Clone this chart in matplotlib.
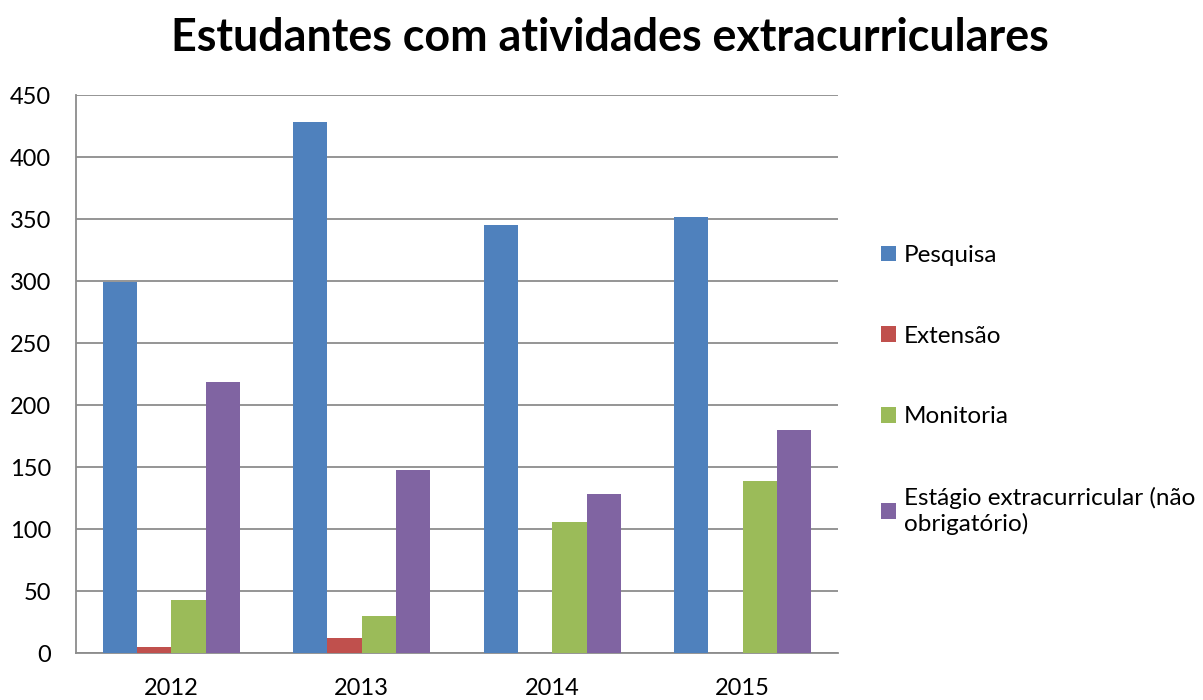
import numpy as np
import matplotlib.pyplot as plt

plt.rcParams['font.family'] = ['Lato', 'DejaVu Sans']

years = ["2012", "2013", "2014", "2015"]
series = ["Pesquisa", "Extensão", "Monitoria", "Estágio extracurricular (não\nobrigatório)"]
pesquisa = [299, 428, 345, 352]
extensao = [5, 12, 0, 0]
monitoria = [43, 30, 106, 139]
estagio = [219, 148, 128, 180]
colors = ["#4f81bd", "#c0504d", "#9bbb59", "#8064a2"]

fig = plt.figure(figsize=(12.03, 7), dpi=100)
ax = fig.add_axes([0.0632, 0.0671, 0.6334, 0.7969])

x = np.arange(len(years))
w = 0.18
for i, vals in enumerate([pesquisa, extensao, monitoria, estagio]):
    ax.bar(x + (i - 1.5) * w, vals, w, color=colors[i], label=series[i], zorder=3)

ax.set_xlim(-0.5, 3.5)
ax.set_ylim(0, 450)
ax.set_yticks(range(0, 451, 50))
ax.set_xticks(x)
ax.set_xticklabels(years)
ax.yaxis.grid(True, color="#8c8c8c", linewidth=1.3, zorder=0)
for s in ["top", "right"]:
    ax.spines[s].set_visible(False)
for s in ["left", "bottom"]:
    ax.spines[s].set_color("#8c8c8c")
    ax.spines[s].set_linewidth(1.3)
ax.tick_params(axis="y", labelsize=17, length=0, pad=18)
ax.tick_params(axis="x", labelsize=17, length=0, pad=18)

fig.suptitle("Estudantes com atividades extracurriculares", fontsize=32.3, fontweight="bold", x=0.507, y=0.976)

fig.legend(loc="upper left", bbox_to_anchor=(0.714, 0.681), frameon=False, fontsize=17.5,
           handlelength=0.62, handleheight=0.62, handletextpad=0.33, labelspacing=2.45)

fig.savefig("out.png", dpi=100)
